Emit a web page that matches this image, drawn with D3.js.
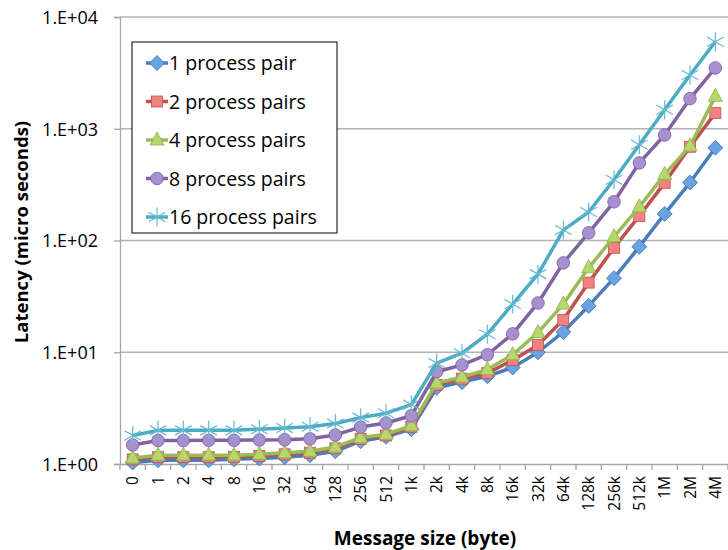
<!DOCTYPE html>
<html>
<head>
<meta charset="utf-8">
<script src="https://cdn.jsdelivr.net/npm/d3@7"></script>
<style>
  body { margin: 0; background: #fff; }
  text { font-family: "Open Sans", "Noto Sans", sans-serif; fill: #000; }
</style>
</head>
<body>
<svg id="chart" width="728" height="550"></svg>
<script>
var sizes = ['0', '1', '2', '4', '8', '16', '32', '64', '128', '256', '512', '1k',
  '2k', '4k', '8k', '16k', '32k', '64k', '128k', '256k', '512k', '1M', '2M', '4M']

var seriesNames = ['1 process pair', '2 process pairs', '4 process pairs', '8 process pairs', '16 process pairs']

var pair1 = [1.03, 1.08, 1.08, 1.08, 1.1, 1.12, 1.15, 1.2, 1.3, 1.6, 1.75, 2.05,
  4.8, 5.4, 6.1, 7.3, 10, 15.2, 26, 46, 88, 173, 330, 675]
var pair2 = [1.1, 1.15, 1.15, 1.15, 1.16, 1.18, 1.22, 1.26, 1.38, 1.68, 1.8, 2.15,
  5.1, 5.8, 6.5, 8.5, 11.6, 19.5, 42, 86, 166, 328, 690, 1380]
var pair4 = [1.13, 1.2, 1.2, 1.2, 1.2, 1.22, 1.26, 1.3, 1.42, 1.72, 1.85, 2.2,
  5.3, 6, 7, 9.5, 15, 27, 57, 108, 200, 390, 700, 1950]
var pair8 = [1.48, 1.62, 1.62, 1.63, 1.63, 1.64, 1.65, 1.68, 1.82, 2.14, 2.33, 2.7,
  6.7, 7.7, 9.5, 14.6, 27.6, 63, 117, 222, 495, 880, 1860, 3500]
var pair16 = [1.8, 2.0, 2.0, 2.0, 2.0, 2.05, 2.1, 2.15, 2.3, 2.6, 2.85, 3.4,
  8, 9.8, 14.5, 27, 50, 124, 180, 350, 718, 1480, 3030, 6000]

var yTicks = [1, 10, 100, 1000, 10000]
var yTickLabels = ['1.E+00', '1.E+01', '1.E+02', '1.E+03', '1.E+04']

var allSeries = [pair1, pair2, pair4, pair8, pair16]
var lineColors = ['#4a7ebb', '#c0504d', '#9bbb59', '#8064a2', '#4bacc6']
var fillColors = ['#6aa2e2', '#f0837f', '#b6d76c', '#a88fd0', '#4bacc6']
var shapes = ['diamond', 'square', 'triangle', 'circle', 'star']

var margin = {top: 17, right: 0, bottom: 86, left: 120}
var width = 728, height = 550

var svg = d3.select('#chart')

var xScale = d3.scaleBand()
  .domain(sizes)
  .range([margin.left, width - margin.right])

var yScale = d3.scaleLog()
  .domain([1, 10000])
  .range([height - margin.bottom, margin.top])

var cx = d => xScale(d) + xScale.bandwidth() / 2

// grid
svg.append('g')
  .selectAll('line')
  .data(yTicks.slice(1))
  .join('line')
  .attr('x1', margin.left)
  .attr('x2', width - margin.right)
  .attr('y1', d => yScale(d))
  .attr('y2', d => yScale(d))
  .style('stroke', '#b3b3b3')
  .style('stroke-width', 1.3)

// y axis
var yAxis = d3.axisLeft(yScale)
  .tickValues(yTicks)
  .tickFormat((d, i) => yTickLabels[i])
  .tickSize(6)
  .tickPadding(16)

var yG = svg.append('g')
  .attr('transform', `translate(${margin.left},0)`)
  .call(yAxis)
yG.select('.domain').style('stroke', '#a6a6a6').style('stroke-width', 1.3)
yG.selectAll('.tick line').style('stroke', '#a6a6a6').style('stroke-width', 1.3)
yG.selectAll('.tick text').style('font-size', '18px').attr('dy', '0.36em')

// x axis
var xAxis = d3.axisBottom(xScale)
  .tickSize(0)
  .tickPadding(0)

var xG = svg.append('g')
  .attr('transform', `translate(0,${height - margin.bottom})`)
  .call(xAxis)
xG.select('.domain').style('stroke', '#a6a6a6').style('stroke-width', 1.3)
xG.selectAll('.tick text')
  .style('font-size', '15.5px')
  .attr('text-anchor', 'end')
  .attr('transform', 'rotate(-90)')
  .attr('x', -12)
  .attr('y', 0)
  .attr('dy', '0.36em')

// category boundary ticks
xG.append('g')
  .selectAll('line')
  .data(sizes.concat(['end']))
  .join('line')
  .attr('x1', (d, i) => margin.left + i * xScale.bandwidth())
  .attr('x2', (d, i) => margin.left + i * xScale.bandwidth())
  .attr('y1', 0)
  .attr('y2', 6)
  .style('stroke', '#a6a6a6')
  .style('stroke-width', 1.3)

// titles
svg.append('text')
  .attr('x', 425)
  .attr('y', 545)
  .attr('text-anchor', 'middle')
  .style('font-size', '19px')
  .style('font-weight', 'bold')
  .text('Message size (byte)')

svg.append('text')
  .attr('transform', 'translate(28,232) rotate(-90)')
  .attr('text-anchor', 'middle')
  .style('font-size', '18.5px')
  .style('font-weight', 'bold')
  .text('Latency (micro seconds)')

// markers
function drawMarker(g, shape, x, y, i) {
  if (shape === 'diamond') {
    g.append('path')
      .attr('d', 'M0,-7.5L7.5,0L0,7.5L-7.5,0Z')
      .attr('transform', `translate(${x},${y})`)
      .style('fill', fillColors[i]).style('stroke', '#3d73b3').style('stroke-width', 0.8)
  } else if (shape === 'square') {
    g.append('rect')
      .attr('x', x - 5.5).attr('y', y - 5.5).attr('width', 11).attr('height', 11)
      .style('fill', fillColors[i]).style('stroke', '#c0504d').style('stroke-width', 0.8)
  } else if (shape === 'triangle') {
    g.append('path')
      .attr('d', 'M0,-8L7,5L-7,5Z')
      .attr('transform', `translate(${x},${y})`)
      .style('fill', fillColors[i]).style('stroke', '#8eb04a').style('stroke-width', 0.8)
  } else if (shape === 'circle') {
    g.append('circle')
      .attr('cx', x).attr('cy', y).attr('r', 6.3)
      .style('fill', fillColors[i]).style('stroke', '#7a5f9e').style('stroke-width', 0.8)
  } else {
    var r = 9.5
    var st = g.append('g').attr('transform', `translate(${x},${y})`)
    ;[[0, -1], [0.87, -0.5], [0.87, 0.5]].forEach(function(v) {
      st.append('line')
        .attr('x1', -v[0] * r).attr('y1', -v[1] * r)
        .attr('x2', v[0] * r).attr('y2', v[1] * r)
        .style('stroke', '#66b9d1').style('stroke-width', 1.2)
    })
  }
}

var line = d3.line()
  .x((d, j) => cx(sizes[j]))
  .y(d => yScale(d))

allSeries.forEach(function(vals, i) {
  var g = svg.append('g').attr('class', 'series-' + i)
  g.append('path')
    .datum(vals)
    .attr('d', line)
    .style('fill', 'none')
    .style('stroke', lineColors[i])
    .style('stroke-width', 3.5)
    .style('stroke-linejoin', 'round')
  vals.forEach(function(v, j) {
    drawMarker(g, shapes[i], cx(sizes[j]), yScale(v), i)
  })
})

// legend
var legend = svg.append('g')
legend.append('rect')
  .attr('x', 132).attr('y', 42).attr('width', 205).attr('height', 191)
  .style('fill', '#fff').style('stroke', '#000').style('stroke-width', 1)

seriesNames.forEach(function(name, i) {
  var ly = 63 + i * 38.5
  legend.append('line')
    .attr('x1', 146).attr('x2', 168)
    .attr('y1', ly).attr('y2', ly)
    .style('stroke', lineColors[i]).style('stroke-width', 3.5)
  drawMarker(legend, shapes[i], 157, ly, i)
  legend.append('text')
    .attr('x', 169).attr('y', ly)
    .attr('dy', '0.36em')
    .style('font-size', '19.5px')
    .text(name)
})
</script>
</body>
</html>
